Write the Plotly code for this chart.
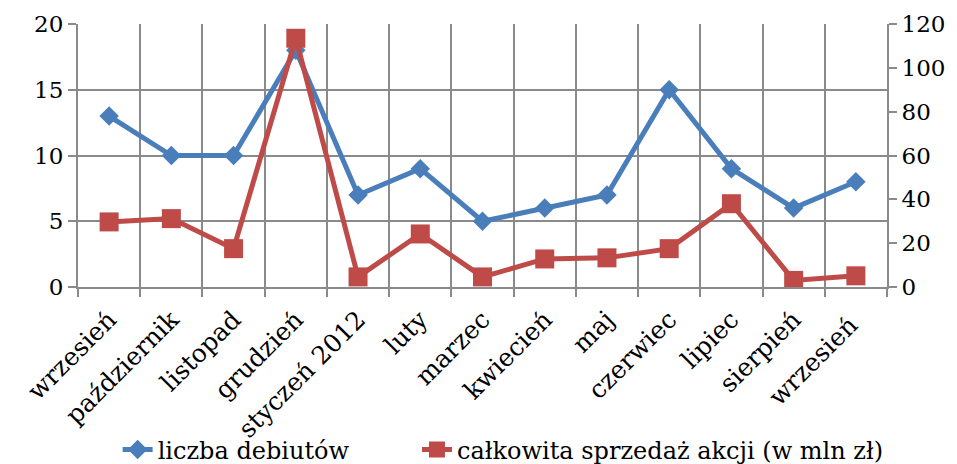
import plotly.graph_objects as go

categories = ["wrzesień", "październik", "listopad", "grudzień", "styczeń 2012", "luty",
              "marzec", "kwiecień", "maj", "czerwiec", "lipiec", "sierpień", "wrzesień "]
debuts = [13, 10, 10, 18, 7, 9, 5, 6, 7, 15, 9, 6, 8]
sales = [29.7, 31.2, 17.5, 113.5, 4.6, 24.2, 4.6, 12.8, 13.3, 17.5, 38.0, 3.0, 5.1]

left_ticks = [0, 5, 10, 15, 20]
right_ticks = [0, 20, 40, 60, 80, 100, 120]

BLUE = "#4A7EBB"
RED = "#BE4B48"
GRID = "#8A8A8A"
FONT = "DejaVu Serif"

fig = go.Figure()
fig.add_trace(go.Scatter(
    x=categories, y=debuts, name="liczba debiutów", mode="lines+markers",
    line=dict(color=BLUE, width=5),
    marker=dict(symbol="diamond", size=15, color=BLUE),
    yaxis="y", legend="legend"))
fig.add_trace(go.Scatter(
    x=categories, y=sales, name="całkowita sprzedaż akcji (w mln zł)", mode="lines+markers",
    line=dict(color=RED, width=5),
    marker=dict(symbol="square", size=19, color=RED),
    yaxis="y2", legend="legend2"))

legend_common = dict(orientation="h", xanchor="left", y=0.031, yref="container",
                     yanchor="middle", font=dict(size=24), bgcolor="rgba(0,0,0,0)")

# page body has an 8px default margin, so the figure is sized/offset to compensate
fig.update_layout(
    width=949, height=456,
    margin=dict(l=70, r=70, t=16, b=177, autoexpand=False),
    paper_bgcolor="white", plot_bgcolor="white",
    font=dict(family=FONT, size=24, color="black"),
    showlegend=True,
    legend=dict(x=0.049, **legend_common),
    legend2=dict(x=0.419, **legend_common),
    xaxis=dict(type="category", tickson="boundaries", showgrid=True, gridcolor=GRID,
               gridwidth=2, ticks="outside", ticklen=8, tickcolor=GRID, tickwidth=2,
               showline=True, linecolor=GRID, linewidth=2, tickangle=-45,
               ticklabelstandoff=6,
               tickfont=dict(size=25), range=[-0.5, 12.5], automargin=False),
    yaxis=dict(range=[0, 20], tickvals=left_ticks, showgrid=True, gridcolor=GRID, gridwidth=2,
               ticks="outside", ticklen=8, tickcolor=GRID, tickwidth=2,
               showline=True, linecolor=GRID, linewidth=2, zeroline=False,
               tickfont=dict(size=23), automargin=False),
    yaxis2=dict(range=[0, 120], tickvals=right_ticks, overlaying="y", side="right",
                showgrid=False, ticks="outside", ticklen=8, tickcolor=GRID, tickwidth=2,
                showline=True, linecolor=GRID, linewidth=2, zeroline=False,
                tickfont=dict(size=23), automargin=False),
)

fig.write_html("out.html")
